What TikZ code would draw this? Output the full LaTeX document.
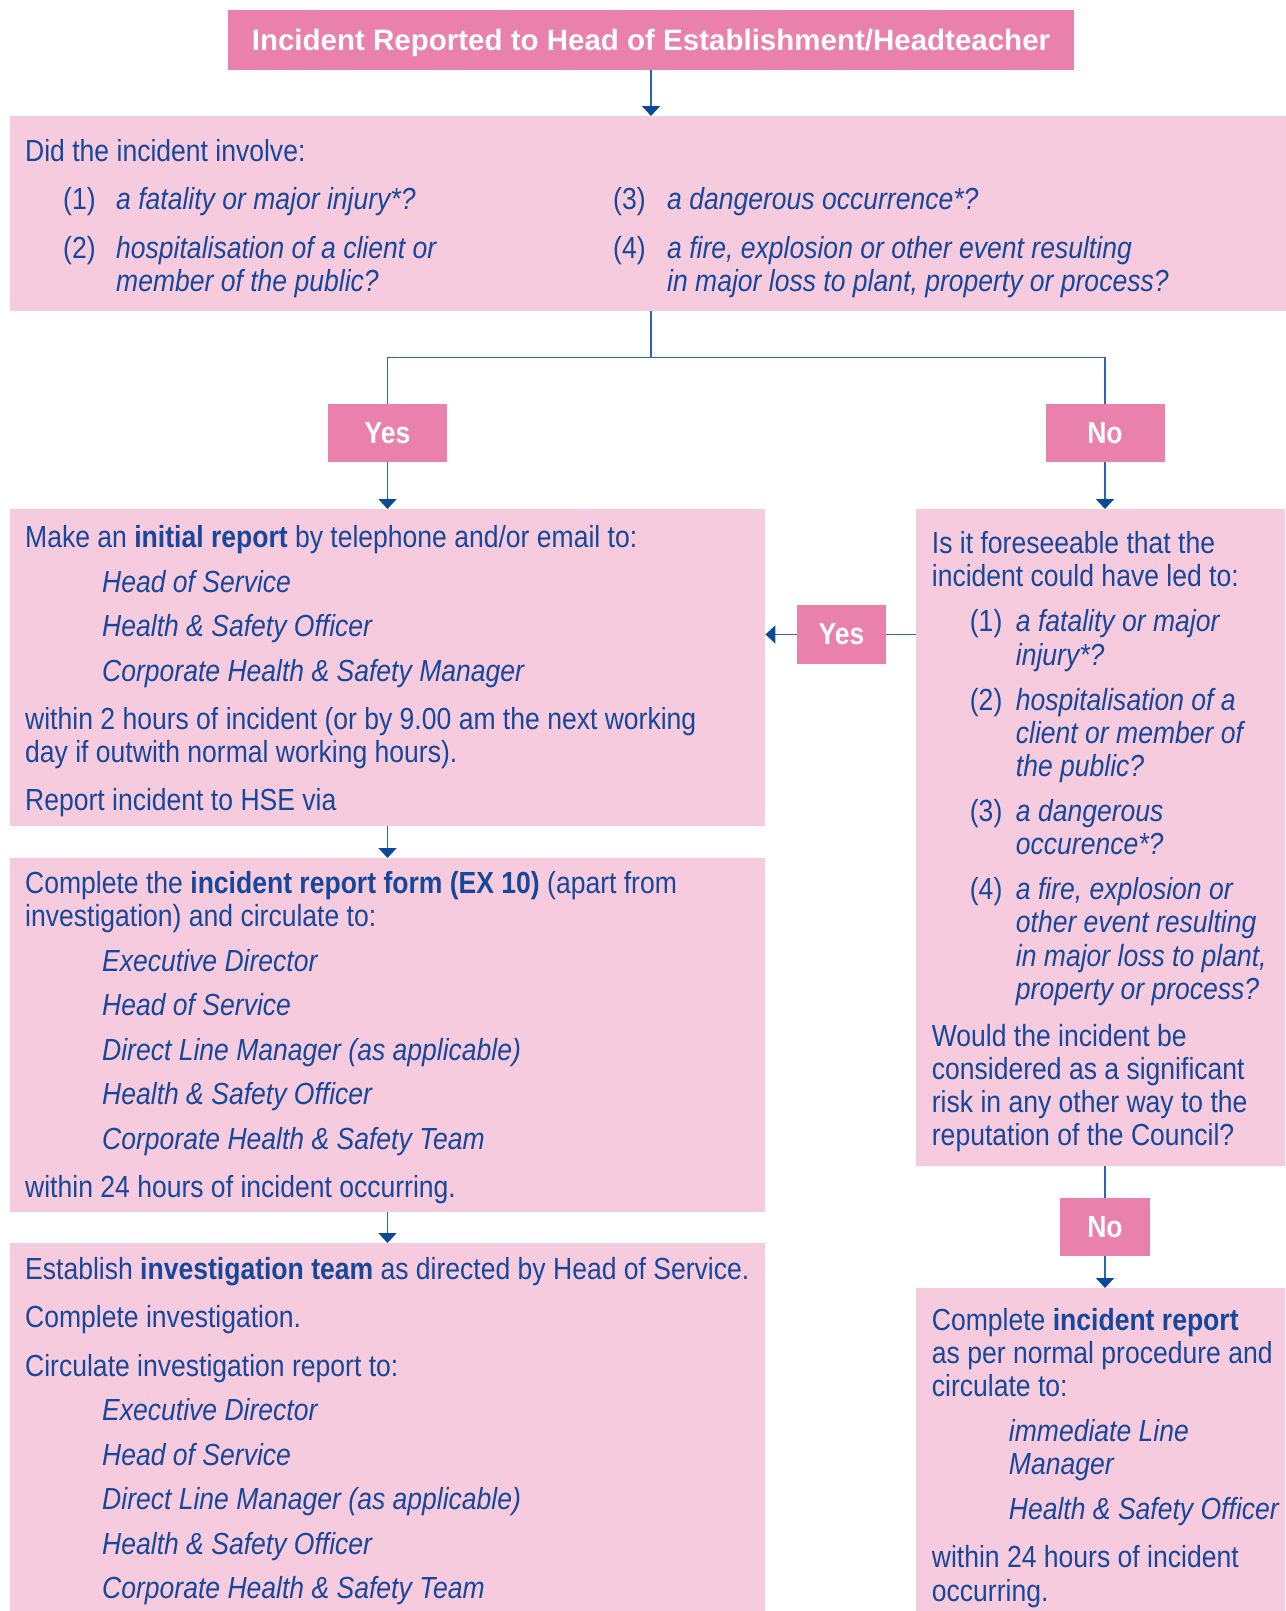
\documentclass[tikz,border=0pt]{standalone}
\usepackage{fontspec}
\setmainfont{Liberation Sans}[FakeStretch=0.87]
\newfontfamily\titlefont{Liberation Sans}
\usepackage{xcolor}
\usepackage{tikz}
\usetikzlibrary{arrows.meta}

\definecolor{lightpink}{HTML}{F6CBDD}
\definecolor{darkpink}{HTML}{EA80AC}
\definecolor{textblue}{HTML}{17479B}
\definecolor{linkblue}{HTML}{2A67AE}
\definecolor{headblue}{HTML}{0B4A98}

\newcommand{\listindent}{\hspace*{77pt}}

\begin{document}
\begin{tikzpicture}[x=1pt,y=-1pt,
		lightbox/.style={fill=lightpink,inner sep=0pt,anchor=north west},
		darkbox/.style={fill=darkpink,text=white,inner sep=0pt,font=\fontsize{30.5}{33.2}\selectfont\bfseries},
		txt/.style={text=textblue,align=left,inner sep=0pt,anchor=north west,font=\fontsize{30.5}{33.2}\selectfont,execute at begin node=\strut},
		link/.style={draw=linkblue,line width=1.8pt},
		arr/.style={link,-{Triangle[width=18pt,length=10pt,color=headblue]}}]
		\useasboundingbox (0,0) rectangle (1285,1611);

		% boxes
		\node[darkbox,minimum width=846pt,minimum height=60pt,text depth=0pt,font=\fontsize{29.5}{33}\titlefont\bfseries] (title) at (651,40) {Incident Reported to Head of Establishment/Headteacher};
		\node[lightbox,minimum width=1282pt,minimum height=195pt] (question) at (10,116) {};
		\node[darkbox,minimum width=119pt,minimum height=58pt] (yesA) at (387.5,433) {Yes};
		\node[darkbox,minimum width=119pt,minimum height=58pt] (noA) at (1105,433) {No};
		\node[lightbox,minimum width=755pt,minimum height=317pt] (initial) at (10,509) {};
		\node[lightbox,minimum width=369pt,minimum height=657pt] (foresee) at (916,509) {};
		\node[darkbox,minimum width=89pt,minimum height=59pt] (yesB) at (841.5,634.5) {Yes};
		\node[lightbox,minimum width=755pt,minimum height=354pt] (form) at (10,858) {};
		\node[lightbox,minimum width=755pt,minimum height=370pt] (invest) at (10,1243) {};
		\node[darkbox,minimum width=90pt,minimum height=58pt] (noB) at (1105,1227) {No};
		\node[lightbox,minimum width=369pt,minimum height=325pt] (normal) at (916,1288) {};

		% connectors
		\draw[arr] (title) -- (title |- question.north);
		\draw[link] (question.south -| title) -- ++(0,46) coordinate (split);
		\draw[link] (yesA) |- (split) -| (noA);
		\draw[arr] (yesA) -- (yesA |- initial.north);
		\draw[arr] (noA) -- (noA |- foresee.north);
		\draw[link] (foresee.west |- yesB) -- (yesB);
		\draw[arr] (yesB) -- (yesB -| initial.east);
		\draw[arr] (yesA |- initial.south) -- (yesA |- form.north);
		\draw[arr] (yesA |- form.south) -- (yesA |- invest.north);
		\draw[link] (noB |- foresee.south) -- (noB);
		\draw[arr] (noB) -- (noB |- normal.north);

		% texts
		\node[txt] (qintro) at (25,138.3) {Did the incident involve:};
		\node[txt] (qleft) at (63,187.3) {\makebox[53pt][l]{(1)}\textit{a fatality or major injury*?}\\[15.8pt]
			\makebox[53pt][l]{(2)}\textit{hospitalisation of a client or}\\
			\hspace*{53pt}\textit{member of the public?}};
		\node[txt] (qright) at (613,187.3) {\makebox[54pt][l]{(3)}\textit{a dangerous occurrence*?}\\[15.8pt]
			\makebox[54pt][l]{(4)}\textit{a fire, explosion or other event resulting}\\
			\hspace*{54pt}\textit{in major loss to plant, property or process?}};

		\node[txt] (initialtxt) at (25,525.3) {Make an \textbf{initial report} by telephone and/or email to:\\[11.3pt]
			\listindent\textit{Head of Service}\\[11.3pt]
			\listindent\textit{Health \& Safety Officer}\\[11.3pt]
			\listindent\textit{Corporate Health \& Safety Manager}\\[15.3pt]
			within 2 hours of incident (or by 9.00 am the next working\\
			day if outwith normal working hours).\\[14.3pt]
			Report incident to HSE via};

		\node[txt] (formtxt) at (25,871.3) {Complete the \textbf{incident report form (EX 10)} (apart from\\
			investigation) and circulate to:\\[11.3pt]
			\listindent\textit{Executive Director}\\[11.3pt]
			\listindent\textit{Head of Service}\\[11.3pt]
			\listindent\textit{Direct Line Manager (as applicable)}\\[11.3pt]
			\listindent\textit{Health \& Safety Officer}\\[11.3pt]
			\listindent\textit{Corporate Health \& Safety Team}\\[15.3pt]
			within 24 hours of incident occurring.};

		\node[txt] (investtxt) at (25,1257) {Establish \textbf{investigation team} as directed by Head of Service.\\[15.3pt]
			Complete investigation.\\[15.3pt]
			Circulate investigation report to:\\[11.3pt]
			\listindent\textit{Executive Director}\\[11.3pt]
			\listindent\textit{Head of Service}\\[11.3pt]
			\listindent\textit{Direct Line Manager (as applicable)}\\[11.3pt]
			\listindent\textit{Health \& Safety Officer}\\[11.3pt]
			\listindent\textit{Corporate Health \& Safety Team}};

		\node[txt] (foreseetxt) at (931.7,531.3) {Is it foreseeable that the\\
			incident could have led to:\\[11.8pt]
			\hspace*{38pt}\makebox[46pt][l]{(1)}\textit{a fatality or major}\\
			\hspace*{84pt}\textit{injury*?}\\[11.8pt]
			\hspace*{38pt}\makebox[46pt][l]{(2)}\textit{hospitalisation of a}\\
			\hspace*{84pt}\textit{client or member of}\\
			\hspace*{84pt}\textit{the public?}\\[11.8pt]
			\hspace*{38pt}\makebox[46pt][l]{(3)}\textit{a dangerous}\\
			\hspace*{84pt}\textit{occurence*?}\\[11.8pt]
			\hspace*{38pt}\makebox[46pt][l]{(4)}\textit{a fire, explosion or}\\
			\hspace*{84pt}\textit{other event resulting}\\
			\hspace*{84pt}\textit{in major loss to plant,}\\
			\hspace*{84pt}\textit{property or process?}\\[13.8pt]
			Would the incident be\\
			considered as a significant\\
			risk in any other way to the\\
			reputation of the Council?};

		\node[txt] (normaltxt) at (931.7,1308) {Complete \textbf{incident report}\\
			as per normal procedure and\\
			circulate to:\\[11.8pt]
			\listindent\textit{immediate Line}\\
			\listindent\textit{Manager}\\[11.8pt]
			\listindent\textit{Health \& Safety Officer}\\[14.8pt]
			within 24 hours of incident\\
			occurring.};
\end{tikzpicture}
\end{document}
